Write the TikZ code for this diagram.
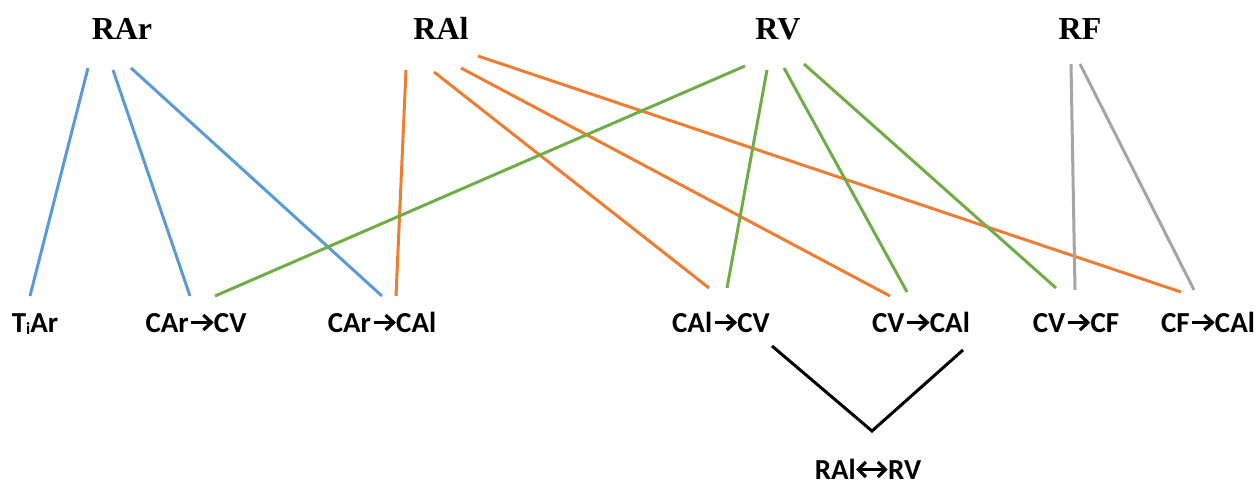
\documentclass[tikz,border=0pt]{standalone}
\usepackage{fontspec}
\setmainfont{Liberation Serif}
\newfontfamily\lab{Carlito}
\definecolor{cblue}{RGB}{91,155,213}
\definecolor{corange}{RGB}{237,125,49}
\definecolor{cgreen}{RGB}{112,173,71}
\definecolor{cgray}{RGB}{165,165,165}
\newcommand{\ra}{\hspace{1pt}\tikz[baseline=0pt,x=1pt,y=1pt,line width=3.2pt]{\draw (0,9.5) -- (19,9.5); \draw[line join=miter] (12,2) -- (20,9.5) -- (12,17);}\hspace{1pt}}
\newcommand{\lra}{\hspace{1pt}\tikz[baseline=0pt,x=1pt,y=1pt,line width=3.2pt]{\draw (1,9.5) -- (27,9.5); \draw[line join=miter] (8,2) -- (0.5,9.5) -- (8,17); \draw[line join=miter] (20,2) -- (27.5,9.5) -- (20,17);}\hspace{1pt}}
\begin{document}
\begin{tikzpicture}[x=1pt,y=-1pt,
  top/.style={font=\bfseries\fontsize{32}{32}\selectfont, anchor=base, inner sep=0pt},
  bot/.style={font=\lab\bfseries\fontsize{29}{29}\selectfont, anchor=base, inner sep=0pt},
  conn/.style={line width=3pt}]
\useasboundingbox (0,0) rectangle (1256,484);
\node[top] (RAr) at (122,40) {RAr};
\node[top] (RAl) at (441,40) {RAl};
\node[top] (RV) at (778,40) {RV};
\node[top] (RF) at (1080,40) {RF};
\node[bot] (TiAr) at (35,332) {T\raisebox{-0.2ex}{\fontsize{17}{17}\selectfont i}Ar};
\node[bot] (CArCV) at (196,332) {CAr\ra CV};
\node[bot] (CArCAl) at (382,332) {CAr\ra CAl};
\node[bot] (CAlCV) at (721,332) {CAl\ra CV};
\node[bot] (CVCAl) at (921,332) {CV\ra CAl};
\node[bot] (CVCF) at (1076,332) {CV\ra CF};
\node[bot] (CFCAl) at (1208,332) {CF\ra CAl};
\node[bot] (RAlRV) at (868,479) {RAl\lra RV};
% coordinates for connector ends
\coordinate (a1) at (88,68);   \coordinate (b1) at (30,296);
\coordinate (a2) at (113,70);  \coordinate (b2) at (190,296);
\coordinate (a3) at (131,68);  \coordinate (b3) at (382,296);
\coordinate (o1) at (406,70);  \coordinate (p1) at (396,296);
\coordinate (o2) at (434,72);  \coordinate (p2) at (709,288);
\coordinate (o3) at (461,68);  \coordinate (p3) at (890,296);
\coordinate (o4) at (478,56);  \coordinate (p4) at (1181,292);
\coordinate (g1) at (745,66);  \coordinate (h1) at (215,296);
\coordinate (g2) at (767,70);  \coordinate (h2) at (727,288);
\coordinate (g3) at (784,68);  \coordinate (h3) at (907,292);
\coordinate (g4) at (804,64);  \coordinate (h4) at (1056,288);
\coordinate (r1) at (1071,64); \coordinate (s1) at (1075,290);
\coordinate (r2) at (1080,64); \coordinate (s2) at (1194,290);
\coordinate (k1) at (772,346); \coordinate (k2) at (872,431); \coordinate (k3) at (963,350);
\begin{scope}[conn]
\draw[cblue] (a1) -- (b1);
\draw[cblue] (a2) -- (b2);
\draw[cblue] (a3) -- (b3);
\draw[corange] (o1) -- (p1);
\draw[corange] (o2) -- (p2);
\draw[corange] (o3) -- (p3);
\draw[corange] (o4) -- (p4);
\draw[cgreen] (g1) -- (h1);
\draw[cgreen] (g2) -- (h2);
\draw[cgreen] (g3) -- (h3);
\draw[cgreen] (g4) -- (h4);
\draw[cgray] (r1) -- (s1);
\draw[cgray] (r2) -- (s2);
\draw[black] (k1) -- (k2) -- (k3);
\end{scope}
\end{tikzpicture}
\end{document}
